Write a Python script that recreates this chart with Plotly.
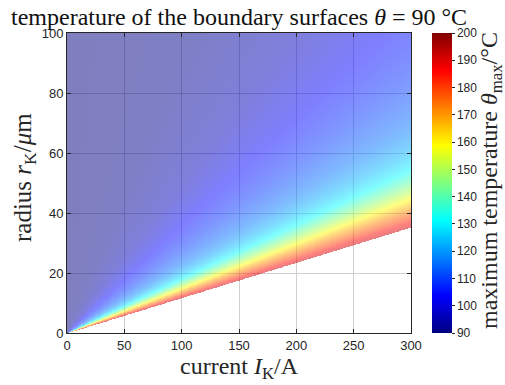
import numpy as np
import plotly.graph_objects as go

# Isotherms: the maximum temperature is (to reading accuracy)
# constant along rays through the origin, i.e. a function of I_K / r_K.
ratio_I_per_r = [0.0, 1.0, 2.0, 2.7, 3.5, 4.4, 5.0, 5.5, 6.1, 6.7, 7.3, 8.1, 8.5]   # A / um
temp_at_ratio = [90, 91, 96, 103, 109, 117, 124, 131, 145, 159, 172, 186, 192]      # degC
ratio_limit = 8.5        # beyond this the reference leaves the area blank

current_ticks = [0, 50, 100, 150, 200, 250, 300]
radius_ticks = [0, 20, 40, 60, 80, 100]
temp_ticks = [90, 100, 110, 120, 130, 140, 150, 160, 170, 180, 190, 200]

currents = np.linspace(0, 300, 301)
radii = np.linspace(0, 100, 301)

# table for the heatmap built from the read isotherms
II, RR = np.meshgrid(currents, radii)
with np.errstate(divide="ignore", invalid="ignore"):
    U = np.where(RR > 0, II / RR, np.where(II == 0, 0.0, np.inf))
Z = np.interp(np.clip(U, 0, 1e9), ratio_I_per_r, temp_at_ratio)
Z = np.where(U > ratio_limit, np.nan, Z)

jet = [(0.0, (0, 0, 128)), (0.125, (0, 0, 255)), (0.375, (0, 255, 255)),
       (0.625, (255, 255, 0)), (0.875, (255, 0, 0)), (1.0, (128, 0, 0))]
cs_alpha = [[p, "rgba(%d,%d,%d,0.5)" % c] for p, c in jet]
cs_solid = [[p, "rgb(%d,%d,%d)" % c] for p, c in jet]

fig = go.Figure()
fig.add_trace(go.Heatmap(
    x=currents, y=radii, z=Z, colorscale=cs_alpha, zmin=90, zmax=200,
    showscale=False, zsmooth=False, hoverinfo="skip"))

# colour bar (opaque, like the reference)
fig.add_trace(go.Scatter(
    x=[None], y=[None], mode="markers",
    marker=dict(color=[90, 200], cmin=90, cmax=200, colorscale=cs_solid,
                showscale=True,
                colorbar=dict(x=1.061, xanchor="left", y=0.5, yanchor="middle",
                              len=1.0, lenmode="fraction", thickness=20,
                              xpad=0, ypad=0,
                              outlinewidth=0, tickvals=temp_ticks,
                              ticks="outside", ticklen=3, tickcolor="#262626",
                              tickfont=dict(family="Liberation Sans", size=12, color="#262626"))),
    showlegend=False, hoverinfo="skip"))

serif = "Liberation Serif"
axis_common = dict(showgrid=True, gridcolor="rgb(208,208,208)", gridwidth=1,
                   zeroline=False, showline=True, linecolor="#262626", linewidth=1,
                   mirror="ticks", ticks="inside", ticklen=4, tickcolor="#262626",
                   automargin=False,
                   tickfont=dict(family="Liberation Sans", size=13, color="#262626"))

fig.update_layout(
    width=505, height=385,
    margin=dict(l=67, r=94, t=33, b=52),
    paper_bgcolor="white", plot_bgcolor="white",
    showlegend=False,
    xaxis=dict(range=[0, 300], tickvals=current_ticks, **axis_common),
    yaxis=dict(range=[0, 100], tickvals=radius_ticks, **axis_common),
)

fig.add_annotation(text="temperature of the boundary surfaces <i>θ</i> = 90 °C",
                   xref="paper", yref="paper", x=0.5, y=1.0, xanchor="center",
                   yanchor="bottom", yshift=1, showarrow=False,
                   font=dict(family=serif, size=24, color="#111111"))
fig.add_annotation(text="current <i>I</i><sub>K</sub>/A",
                   xref="paper", yref="paper", x=0.5, y=0.0, xanchor="center",
                   yanchor="top", yshift=-18, showarrow=False,
                   font=dict(family=serif, size=24, color="#262626"))
fig.add_annotation(text="radius <i>r</i><sub>K</sub>/<i>μ</i>m",
                   xref="paper", yref="paper", x=0.0, y=0.5, xanchor="center",
                   yanchor="middle", xshift=-43, yshift=5, textangle=-90, showarrow=False,
                   font=dict(family=serif, size=25, color="#262626"))
fig.add_annotation(text="maximum temperature <i>θ</i><sub>max</sub>/°C",
                   xref="paper", yref="paper", x=1.0, y=0.5, xanchor="center",
                   yanchor="middle", xshift=80, yshift=2, textangle=-90, showarrow=False,
                   font=dict(family=serif, size=24, color="#262626"))

fig.write_html("out.html", config={"displayModeBar": False},
               post_script="document.body.style.margin='0';")
